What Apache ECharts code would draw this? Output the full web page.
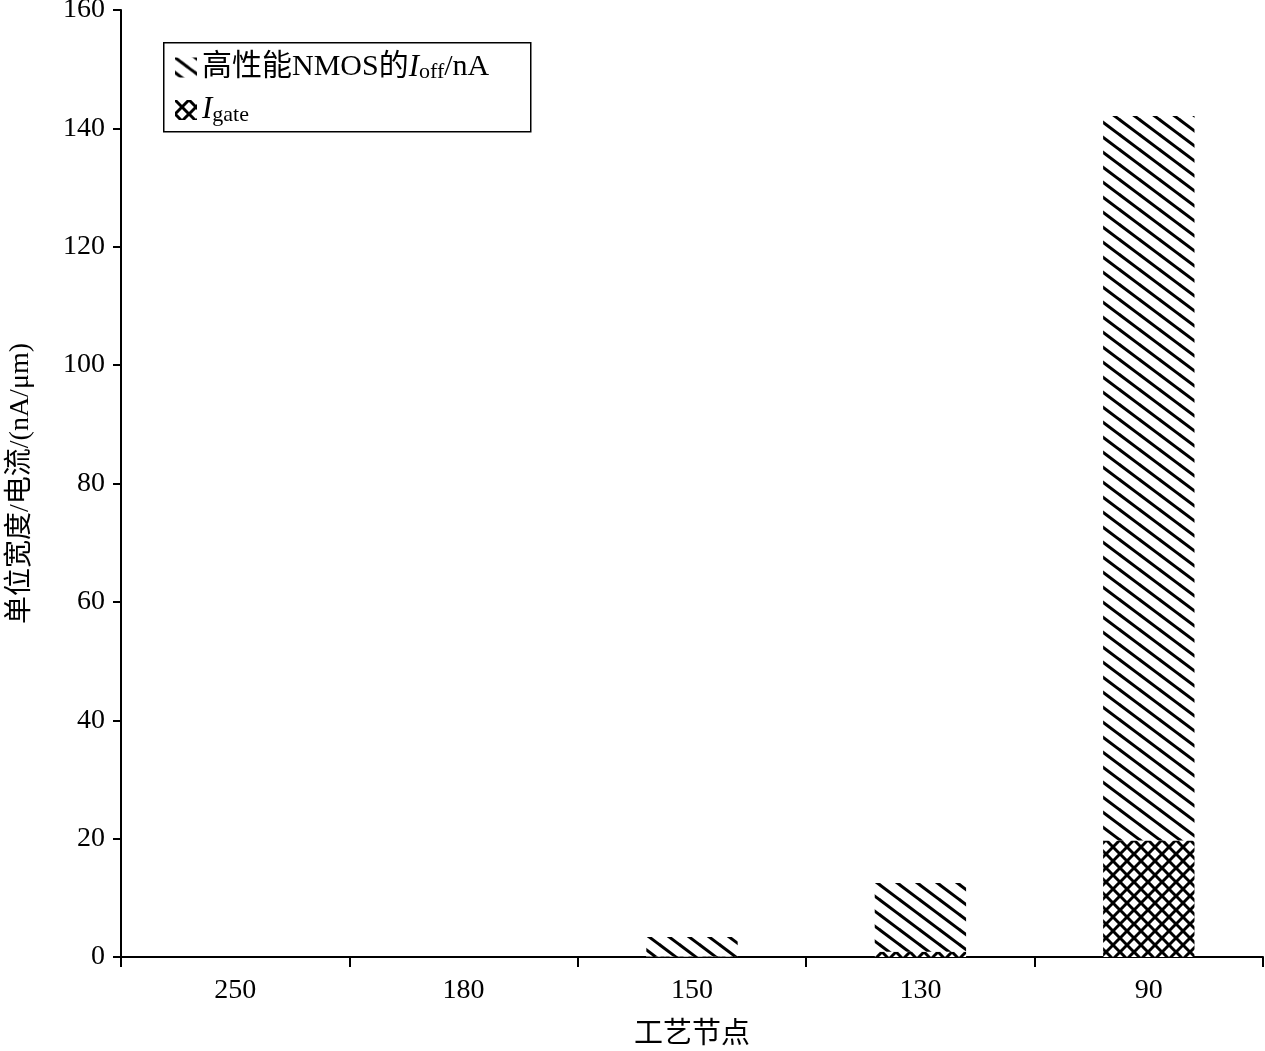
<!DOCTYPE html>
<html>
<head>
<meta charset="utf-8">
<script src="https://cdn.jsdelivr.net/npm/echarts@6/dist/echarts.min.js"></script>
<style>
html,body{margin:0;padding:0;background:#fff;}
#main{width:1265px;height:1051px;}
</style>
</head>
<body>
<div id="main"></div>
<script>
const categories = ['250', '180', '150', '130', '90'];
const igateValues = [0, 0, 0.1, 0.9, 19.7];
const ioffValues = [0, 0, 3.3, 11.6, 122.4];
const yTicks = [0, 20, 40, 60, 80, 100, 120, 140, 160];

const SERIF = "'Liberation Serif', 'Times New Roman', 'Noto Sans CJK SC', serif";

function hatchPattern() {
  const w = 20, h = 15;
  const c = document.createElement('canvas');
  c.width = w; c.height = h;
  const ctx = c.getContext('2d');
  ctx.fillStyle = '#fff';
  ctx.fillRect(0, 0, w, h);
  ctx.strokeStyle = '#000';
  ctx.lineWidth = 3;
  for (const dx of [-w, 0, w]) {
    ctx.beginPath();
    ctx.moveTo(dx - w * 0.2, -h * 0.2);
    ctx.lineTo(dx + w * 1.2, h * 1.2);
    ctx.stroke();
  }
  return c;
}
function crossPattern() {
  const s = 14;
  const c = document.createElement('canvas');
  c.width = s; c.height = s;
  const ctx = c.getContext('2d');
  ctx.fillStyle = '#fff';
  ctx.fillRect(0, 0, s, s);
  ctx.strokeStyle = '#000';
  ctx.lineWidth = 3;
  for (const dx of [-s, 0, s]) {
    ctx.beginPath();
    ctx.moveTo(dx - 2, -2); ctx.lineTo(dx + s + 2, s + 2); ctx.stroke();
    ctx.beginPath();
    ctx.moveTo(dx + s + 2, -2); ctx.lineTo(dx - 2, s + 2); ctx.stroke();
  }
  return c;
}

const ioffName = '高性能NMOS的Ioff/nA';
const igateName = 'Igate';

const chart = echarts.init(document.getElementById('main'), null, {renderer: 'canvas'});
chart.setOption({
  backgroundColor: '#fff',
  animation: false,
  grid: {left: 121, right: 2, top: 10, bottom: 94, containLabel: false, outerBoundsMode: 'none'},
  graphic: [{
    type: 'rect',
    left: 163, top: 42,
    shape: {width: 367, height: 89},
    style: {fill: '#fff', stroke: '#000', lineWidth: 1.5},
    z: 10
  }],
  legend: {
    orient: 'vertical',
    left: 170, top: 47,
    itemWidth: 22, itemHeight: 20,
    itemGap: 11,
    icon: 'rect',
    z: 20,
    data: [ioffName, igateName],
    formatter: function (name) {
      if (name === igateName) return '{i|I}{sub|gate}';
      return '{n|高性能NMOS的}{i|I}{sub|off}{n|/nA}';
    },
    textStyle: {
      color: '#000',
      fontFamily: SERIF,
      fontSize: 30,
      rich: {
        n: {fontFamily: SERIF, fontSize: 30, color: '#000', lineHeight: 32, verticalAlign: 'middle'},
        i: {fontFamily: SERIF, fontSize: 31, fontStyle: 'italic', color: '#000', lineHeight: 32, verticalAlign: 'middle'},
        sub: {fontFamily: SERIF, fontSize: 22, color: '#000', lineHeight: 14, verticalAlign: 'bottom'}
      }
    }
  },
  xAxis: {
    type: 'category',
    data: categories,
    boundaryGap: true,
    name: '工艺节点',
    nameLocation: 'middle',
    nameGap: 64,
    nameTextStyle: {fontFamily: SERIF, fontSize: 29, color: '#000'},
    axisLine: {show: true, lineStyle: {color: '#000', width: 2}},
    axisTick: {show: true, length: 10, lineStyle: {color: '#000', width: 2}},
    axisLabel: {fontFamily: SERIF, fontSize: 28, color: '#000', margin: 20}
  },
  yAxis: {
    type: 'value',
    min: yTicks[0],
    max: yTicks[yTicks.length - 1],
    interval: yTicks[1] - yTicks[0],
    name: '单位宽度/电流/(nA/μm)',
    nameLocation: 'middle',
    nameGap: 86,
    nameRotate: 90,
    nameTextStyle: {fontFamily: SERIF, fontSize: 28, color: '#000'},
    splitLine: {show: false},
    axisLine: {show: true, lineStyle: {color: '#000', width: 2}},
    axisTick: {show: true, length: 8, lineStyle: {color: '#000', width: 2}},
    axisLabel: {fontFamily: SERIF, fontSize: 28, color: '#000', margin: 16}
  },
  series: [
    {
      name: igateName,
      type: 'bar',
      stack: 'total',
      barWidth: '40%',
      data: igateValues,
      itemStyle: {color: {image: crossPattern(), repeat: 'repeat'}}
    },
    {
      name: ioffName,
      type: 'bar',
      stack: 'total',
      barWidth: '40%',
      data: ioffValues,
      itemStyle: {color: {image: hatchPattern(), repeat: 'repeat'}}
    }
  ]
});
</script>
</body>
</html>
